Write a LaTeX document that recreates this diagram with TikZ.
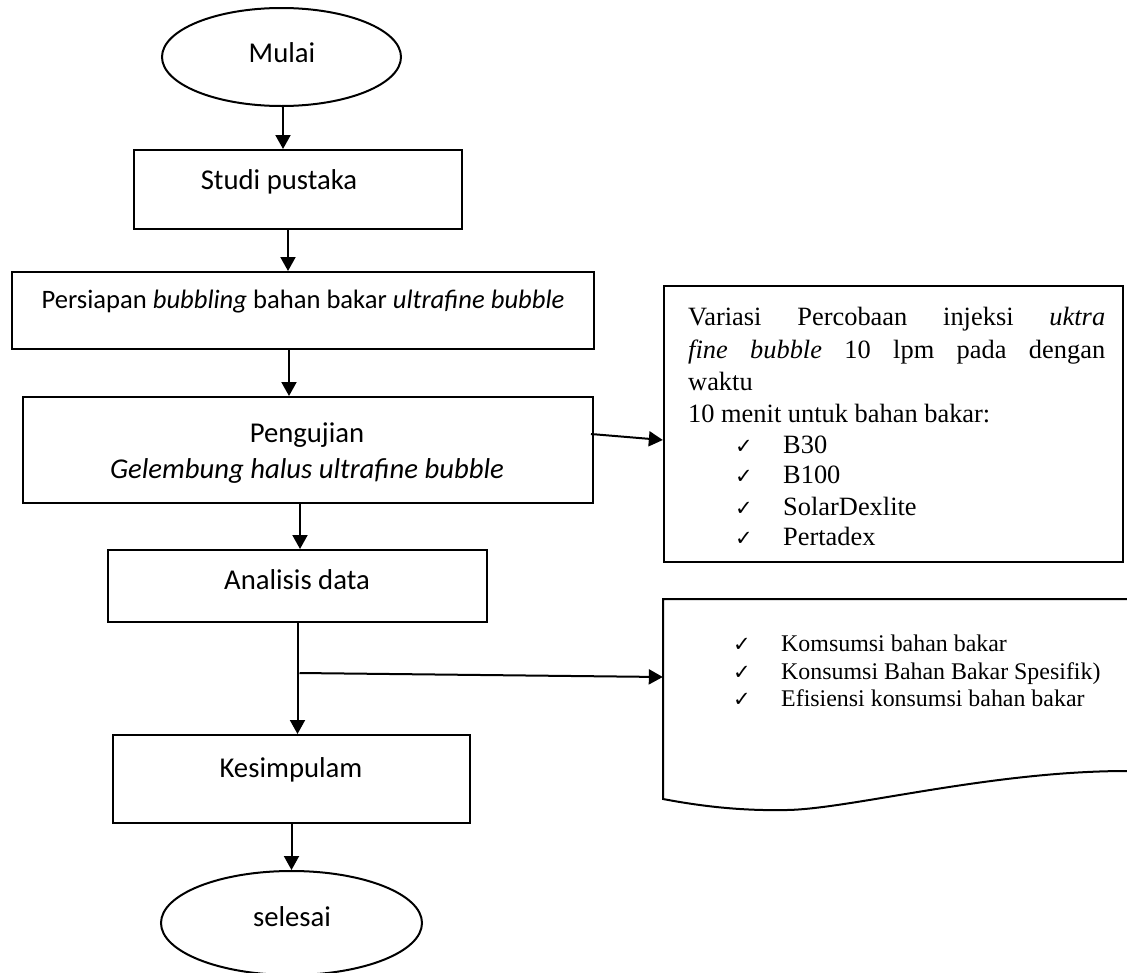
\documentclass[tikz,border=0pt]{standalone}
\usepackage{fontspec}
\setmainfont{Carlito}
\newfontfamily\tnr{Liberation Serif}
\newfontfamily\djv{DejaVu Sans}
\usetikzlibrary{shapes.geometric,arrows.meta}
\begin{document}
\begin{tikzpicture}[x=1pt,y=-1pt,
  box/.style={draw,line width=2pt,rectangle,inner sep=0pt},
  term/.style={draw,line width=2pt,ellipse,inner sep=0pt},
  arr/.style={line width=2pt,-{Triangle[length=14pt,width=15pt]}},
  lbl/.style={font=\fontsize{28.7}{34}\selectfont,inner sep=0pt,anchor=base},
  lbls/.style={font=\fontsize{26.6}{32}\selectfont,inner sep=0pt,anchor=base},
  tr/.style={font=\tnr\fontsize{26.4}{32}\selectfont,inner sep=0pt,anchor=base west},
  trs/.style={font=\tnr\fontsize{23.9}{28}\selectfont,inner sep=0pt,anchor=base west},
  ck/.style={font=\djv\fontsize{21}{24}\selectfont,inner sep=0pt,anchor=base west}]
\useasboundingbox (0,0) rectangle (1127,972);
\clip (0,0) rectangle (1127,972);
\fill[white] (0,0) rectangle (1127,972);

% left column
\node[term,minimum width=239pt,minimum height=98pt] (mulai) at (281.5,57) {};
\node[lbl] (mulaitxt) at (282,62) {Mulai};
\node[box,minimum width=328pt,minimum height=79pt] (studi) at (298,189.5) {};
\node[lbl] (studitxt) at (279,189) {Studi pustaka};
\node[box,minimum width=582pt,minimum height=77pt] (persiapan) at (303,310.5) {};
\node[lbls] (persiapantxt) at (303,308) {Persiapan \textit{bubbling} bahan bakar \textit{ultrafine bubble}};
\node[box,minimum width=570pt,minimum height=106pt] (pengujian) at (308,450) {};
\node[lbl] (pengujiantxt) at (307,442) {Pengujian};
\node[lbl] (gelembungtxt) at (307,478) {\textit{Gelembung halus ultrafine bubble}};
\node[box,minimum width=379pt,minimum height=72pt] (analisis) at (297.5,586) {};
\node[lbl] (analisistxt) at (297,589) {Analisis data};
\node[box,minimum width=357pt,minimum height=88pt] (kesimpulan) at (291.5,779) {};
\node[lbl] (kesimpulantxt) at (291,777) {Kesimpulam};
\node[term,minimum width=261pt,minimum height=104pt] (selesai) at (291.5,923) {};
\node[lbl] (selesaitxt) at (292,926) {selesai};

% right box 1
\node[box,line width=2.3pt,minimum width=459pt,minimum height=276pt] (variasi) at (893.5,424) {};
\node[tr] (v1) at (688,325) {\makebox[417pt][s]{Variasi Percobaan injeksi \textit{uktra}}};
\node[tr] (v2) at (688,358) {\makebox[417pt][s]{\textit{fine bubble} 10 lpm pada dengan}};
\node[tr] (v3) at (688,390) {waktu};
\node[tr] (v4) at (688,422) {10 menit untuk bahan bakar:};
\node[ck] (c1) at (735,453) {✓};
\node[tr] (i1) at (783,453) {B30};
\node[ck] (c2) at (735,483) {✓};
\node[tr] (i2) at (783,483) {B100};
\node[ck] (c3) at (735,515) {✓};
\node[tr] (i3) at (783,515) {SolarDexlite};
\node[ck] (c4) at (735,545) {✓};
\node[tr] (i4) at (783,545) {Pertadex};

% right box 2 (document shape)
\node[inner sep=0pt,minimum width=477pt,minimum height=200pt] (doc) at (901.5,699) {};
\draw[line width=2pt,line join=miter] (1140,599) -- (663,599) -- (663,799)
  .. controls (700,806) and (740,811) .. (787,810)
  .. controls (850,809) and (990,771) .. (1127,771) -- (1140,771);
\node[ck] (d1) at (733,651) {✓};
\node[trs] (k1) at (781,651) {Komsumsi bahan bakar};
\node[ck] (d2) at (733,679) {✓};
\node[trs] (k2) at (781,679) {Konsumsi Bahan Bakar Spesifik)};
\node[ck] (d3) at (733,706) {✓};
\node[trs] (k3) at (781,706) {Efisiensi konsumsi bahan bakar};

% connectors
\draw[arr] ([xshift=1.5pt]mulai.south) -- ([xshift=1.5pt]mulai.south |- studi.north);
\draw[arr] ([xshift=-10pt]studi.south) -- ([xshift=-10pt]studi.south |- persiapan.north);
\draw[arr] ([xshift=-14pt]persiapan.south) -- ([xshift=-14pt]persiapan.south |- pengujian.north);
\draw[arr] ([xshift=-8pt]pengujian.south) -- ([xshift=-8pt]pengujian.south |- analisis.north);
\draw[arr] (analisis.south) -- (analisis.south |- kesimpulan.north);
\draw[arr] (kesimpulan.south) -- (kesimpulan.south |- selesai.north);
\draw[arr] ([xshift=-3pt,yshift=16pt]pengujian.east) -- ([yshift=-16pt]variasi.west);
\coordinate (branch) at ([xshift=2pt,yshift=-50pt]analisis.south);
\draw[arr] (branch) -- ([yshift=22pt]doc.west);
\end{tikzpicture}
\end{document}
